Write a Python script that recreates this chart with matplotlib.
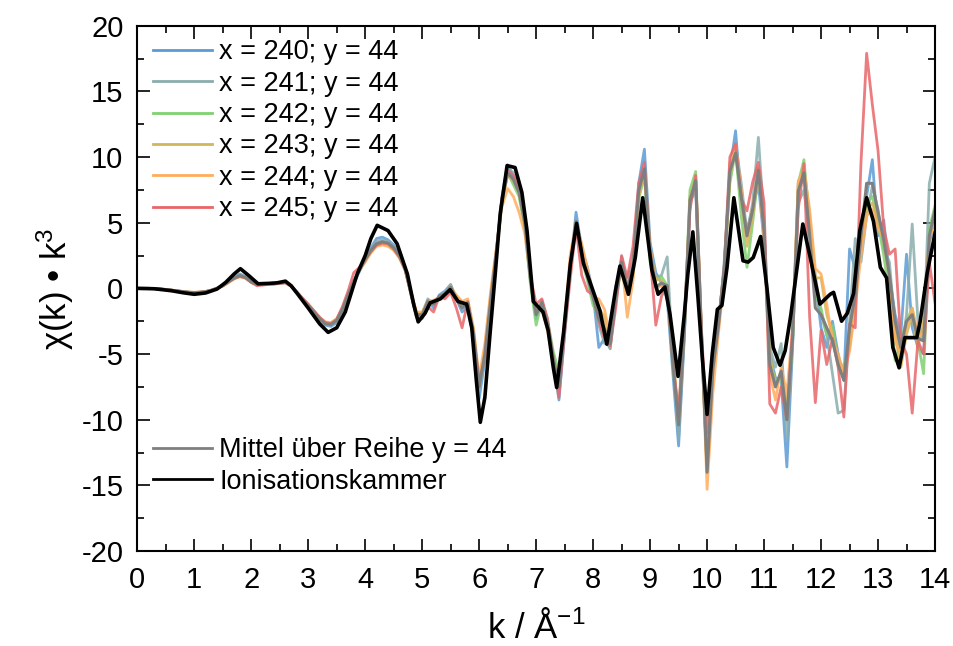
import numpy as np
import matplotlib
matplotlib.use("Agg")
import matplotlib.pyplot as plt

plt.rcParams["font.family"] = ["Liberation Sans", "DejaVu Sans"]
plt.rcParams["mathtext.fontset"] = "custom"
plt.rcParams["mathtext.rm"] = "Liberation Sans"
plt.rcParams["mathtext.it"] = "Liberation Sans:italic"
plt.rcParams["mathtext.default"] = "regular"
plt.rcParams["axes.unicode_minus"] = False

# k-Raster der Pixelspektren (0 ... 14, Schritt 0.1)
k = np.round(np.arange(0, 14.05, 0.1), 1)

chi_240 = [
    0, 0, 0, -0.02, -0.05, -0.09, -0.14, -0.2, -0.26, -0.3,
    -0.33, -0.3, -0.25, -0.14, 0.02, 0.25, 0.55, 0.85, 1.1, 0.9,
    0.55, 0.3, 0.3, 0.35, 0.38, 0.42, 0.5, 0.2, -0.35, -0.85,
    -1.4, -1.9, -2.4, -2.8, -2.9, -2.6, -1.8, -0.6, 0.4, 1.3,
    2.2, 3.1, 3.8, 3.9, 3.7, 3.3, 2.6, 1.6, -0.4, -2.2,
    -2.1, -0.9, -1.5, -0.5, -0.2, 0.3, -0.8, -1.8, -1.4, -3.8,
    -8.4, -5.5, -1.5, 2.8, 7.0, 9.4, 8.5, 7.8, 5.0, 0.6,
    -2.3, -0.9, -2.8, -5.5, -8.5, -3.5, 1.5, 5.8, 3.0, 1.6,
    -0.4, -4.5, -3.8, -4.6, -0.6, 2.4, 0.0, 1.5, 8.0, 10.6,
    3.5, 1.2, 0.4, -0.8, -6.5, -12.0, -3.8, 6.5, 7.6, -4.0,
    -13.5, -5.5, -2.5, 1.5, 9.0, 12.0, 6.5, 4.5, 6.0, 8.0,
    3.5, -5.0, -6.8, -7.0, -13.6, -4.5, 7.5, 8.5, 4.5, 0.5,
    -3.0, -4.5, -2.5, -5.0, -7.0, 3.0, 1.5, 3.0, 7.0, 9.8,
    4.0, 5.2, 1.0, -2.0, -3.5, 2.6, -3.0, -4.5, -5.0, 3.5,
    5.0,
]
chi_241 = [
    0, 0, 0, -0.02, -0.05, -0.09, -0.14, -0.2, -0.25, -0.3,
    -0.32, -0.3, -0.24, -0.14, 0.0, 0.22, 0.5, 0.8, 1.0, 0.85,
    0.5, 0.32, 0.3, 0.35, 0.36, 0.42, 0.48, 0.2, -0.3, -0.8,
    -1.35, -1.85, -2.35, -2.75, -2.8, -2.5, -1.7, -0.55, 0.45, 1.35,
    2.2, 3.0, 3.6, 3.7, 3.55, 3.2, 2.5, 1.5, -0.3, -2.0,
    -1.9, -0.8, -1.2, -0.6, -0.3, 0.1, -0.6, -1.3, -1.2, -3.5,
    -7.6, -5.0, -1.0, 2.6, 6.8, 9.2, 8.8, 7.6, 5.2, 0.8,
    -2.0, -1.2, -2.6, -5.3, -7.2, -3.0, 1.7, 5.0, 3.2, 0.9,
    -0.8, -2.8, -4.2, -4.0, 0.2, 1.6, 0.9, 2.0, 7.5, 9.0,
    2.4, 0.8, 1.0, 2.4, -5.5, -11.4, -3.5, 6.8, 8.0, -3.5,
    -12.5, -5.5, -3.0, 2.0, 8.5, 11.0, 8.0, 4.2, 6.5, 11.5,
    5.0, -4.5, -6.0, -4.2, -11.5, -4.0, 6.5, 7.5, 4.0, 1.0,
    -2.0, -3.5, -6.5, -9.5, -9.3, -2.5, 3.8, 2.0, 5.5, 7.8,
    6.0, 3.0, 2.0, -3.0, -5.0, -2.0, 4.9, -2.5, -4.0, 8.0,
    10.0,
]
chi_242 = [
    0, 0, 0, -0.02, -0.05, -0.09, -0.13, -0.19, -0.24, -0.29,
    -0.31, -0.29, -0.24, -0.15, 0.0, 0.2, 0.48, 0.78, 0.95, 0.8,
    0.48, 0.3, 0.3, 0.34, 0.35, 0.4, 0.44, 0.2, -0.3, -0.8,
    -1.3, -1.8, -2.3, -2.65, -2.7, -2.4, -1.6, -0.5, 0.5, 1.4,
    2.1, 2.9, 3.3, 3.4, 3.3, 3.0, 2.4, 1.4, -0.3, -2.0,
    -2.0, -1.1, -1.0, -0.7, -0.5, 0.0, -0.9, -1.2, -1.0, -3.4,
    -7.5, -5.2, -1.2, 2.5, 6.5, 8.8, 7.9, 7.0, 4.6, 0.3,
    -2.8, -1.0, -2.4, -4.8, -6.4, -2.8, 1.8, 4.8, 2.2, 0.6,
    -1.3, -2.0, -3.2, -4.0, -1.0, 1.8, 0.4, 1.0, 6.8, 8.6,
    2.0, 0.6, 0.9, 0.2, -6.0, -9.6, -3.0, 7.5, 8.9, -3.0,
    -14.0, -6.2, -2.6, 1.5, 8.0, 10.5, 5.5, 1.6, 5.0, 8.8,
    4.0, -5.5, -7.0, -6.8, -9.5, -4.2, 8.0, 9.8, 5.0, -0.5,
    -1.5, -3.6, -2.8, -5.5, -6.0, -4.5, -1.0, 4.5, 6.5, 7.0,
    5.0, 2.5, -0.5, -5.5, -4.0, -2.5, -1.5, -4.0, -6.5, 4.5,
    6.3,
]
chi_243 = [
    0, 0, 0, -0.02, -0.05, -0.09, -0.14, -0.2, -0.25, -0.3,
    -0.32, -0.3, -0.25, -0.15, 0.0, 0.18, 0.46, 0.75, 0.92, 0.8,
    0.48, 0.3, 0.3, 0.35, 0.35, 0.4, 0.44, 0.22, -0.28, -0.78,
    -1.25, -1.75, -2.25, -2.6, -2.65, -2.35, -1.55, -0.45, 0.55, 1.4,
    2.1, 2.8, 3.3, 3.4, 3.3, 2.95, 2.4, 1.5, -0.2, -1.9,
    -1.9, -1.0, -1.1, -0.6, -0.4, 0.2, -0.7, -1.0, -1.2, -3.2,
    -7.2, -4.6, -0.6, 2.9, 6.6, 8.6, 8.2, 7.3, 5.3, 1.0,
    -1.8, -1.4, -3.0, -5.2, -7.3, -2.6, 2.0, 5.1, 3.0, 1.2,
    -0.6, -1.5, -2.2, -4.5, -0.4, 1.9, -0.5, 1.4, 7.0, 8.8,
    3.0, 0.7, 0.6, -0.5, -5.0, -10.0, -3.2, 7.0, 8.2, -3.5,
    -13.8, -6.5, -2.8, 1.0, 8.5, 10.8, 7.0, 3.2, 5.5, 9.0,
    4.2, -5.0, -7.5, -6.5, -9.0, -3.8, 8.0, 9.2, 5.5, 0.8,
    0.8, -2.0, -3.5, -5.5, -6.5, -4.5, 0.0, 3.5, 6.0, 6.5,
    5.2, 3.5, 1.0, -3.5, -6.0, -3.5, -2.0, -4.5, -2.5, 4.0,
    5.0,
]
chi_244 = [
    0, 0, 0, -0.02, -0.04, -0.08, -0.13, -0.18, -0.23, -0.28,
    -0.3, -0.28, -0.23, -0.14, 0.0, 0.18, 0.44, 0.72, 0.88, 0.76,
    0.46, 0.3, 0.3, 0.34, 0.35, 0.4, 0.44, 0.22, -0.25, -0.75,
    -1.2, -1.7, -2.2, -2.55, -2.6, -2.3, -1.5, -0.4, 0.55, 1.4,
    2.0, 2.7, 3.2, 3.3, 3.2, 2.9, 2.3, 1.4, -0.2, -1.8,
    -1.8, -1.0, -0.9, -0.7, -0.4, 0.0, -0.5, -1.0, -0.8, -3.0,
    -6.8, -4.2, -0.3, 3.0, 6.2, 7.6, 7.0, 5.8, 4.2, 0.8,
    -1.7, -1.6, -3.2, -5.6, -7.6, -2.4, 2.6, 5.0, 3.4, 1.5,
    -0.7, -0.8, -1.6, -3.8, -0.6, 2.2, -2.2, 0.6, 7.2, 9.0,
    3.2, 0.0, 0.2, -0.3, -5.3, -9.8, -3.0, 6.6, 8.3, -3.2,
    -15.3, -8.0, -3.4, 0.8, 9.5, 10.8, 7.5, 3.8, 6.2, 9.2,
    3.5, -6.5, -8.5, -6.0, -8.0, -3.0, 8.2, 9.0, 6.0, 1.5,
    1.1, -1.2, -4.0, -5.0, -6.5, -4.8, -1.5, 2.5, 5.5, 6.0,
    4.5, 3.8, 0.8, -4.0, -5.0, -3.0, -1.5, -3.5, -3.5, 4.0,
    4.5,
]
chi_245 = [
    0, 0, 0, -0.02, -0.05, -0.09, -0.14, -0.2, -0.25, -0.3,
    -0.32, -0.3, -0.25, -0.15, 0.0, 0.2, 0.48, 0.76, 0.92, 0.8,
    0.45, 0.2, 0.25, 0.3, 0.32, 0.38, 0.42, 0.15, -0.3, -0.75,
    -1.2, -1.7, -2.2, -2.6, -2.7, -2.35, -1.4, -0.2, 1.2, 1.6,
    2.2, 2.8, 3.3, 3.45, 3.4, 3.0, 2.4, 1.4, -0.4, -2.2,
    -2.3, -1.4, -1.8, -0.6, -0.8, -0.3, -1.5, -3.0, -1.0, -3.6,
    -7.0, -5.4, -1.2, 2.6, 6.9, 9.0, 8.6, 7.8, 5.4, 0.9,
    -1.2, -0.8, -2.3, -5.4, -8.3, -3.4, 0.8, 4.7, 1.0, -0.2,
    -0.5, -2.5, -3.8, -4.4, -1.4, 2.5, 0.8, 3.2, 8.0, 9.6,
    2.6, -2.8, -0.6, 0.2, -5.8, -9.4, -2.5, 6.0, 8.6, -3.0,
    -11.0, -5.8, -2.6, 1.6, 10.0, 11.0, 6.8, 5.9, 8.1, 9.6,
    6.5, -8.8, -9.5, -7.5, -10.0, -3.0, 6.0, 9.5, -2.2, -8.7,
    -3.2, -5.8, -3.8, -6.0, -9.8, -2.7, -3.0, 9.5, 17.9, 14.0,
    10.5, 4.6, 2.6, 3.0, -4.0, -5.0, -9.5, -4.0, -5.0, 2.0,
    -1.1,
]
chi_mittel = [
    0, 0, 0, -0.02, -0.05, -0.09, -0.14, -0.2, -0.25, -0.3,
    -0.32, -0.3, -0.25, -0.15, 0.0, 0.2, 0.5, 0.78, 0.97, 0.82,
    0.5, 0.3, 0.3, 0.35, 0.36, 0.41, 0.46, 0.2, -0.3, -0.8,
    -1.3, -1.8, -2.3, -2.7, -2.75, -2.45, -1.6, -0.5, 0.55, 1.4,
    2.2, 2.9, 3.4, 3.55, 3.45, 3.1, 2.5, 1.5, -0.3, -2.0,
    -2.0, -1.0, -1.2, -0.6, -0.4, 0.1, -0.8, -1.5, -1.1, -3.4,
    -7.5, -5.0, -1.0, 2.7, 6.7, 8.8, 8.3, 7.3, 5.0, 0.7,
    -2.0, -1.1, -2.7, -5.3, -7.5, -3.0, 1.7, 5.1, 2.6, 0.9,
    -0.7, -2.3, -3.1, -4.2, -0.6, 2.0, 0.0, 1.6, 7.4, 9.1,
    2.8, 0.1, 0.4, 0.2, -5.7, -10.4, -3.2, 6.7, 8.2, -3.4,
    -14.0, -6.2, -2.8, 1.4, 8.9, 10.3, 7.0, 4.0, 6.0, 9.0,
    4.3, -5.8, -7.5, -6.3, -10.0, -3.8, 7.4, 8.8, 4.0, -1.5,
    -2.0, -3.0, -4.0, -5.8, -7.0, -3.0, -0.5, 4.0, 8.0, 8.0,
    5.8, 3.7, 1.0, -2.5, -4.5, -2.5, -2.0, -3.8, -4.0, 4.0,
    6.0,
]

ion_k = [
    0, 0.3, 0.6, 0.8, 1.0, 1.2, 1.4, 1.55, 1.7, 1.81, 1.95, 2.12, 2.3, 2.45,
    2.6, 2.7, 2.8, 3.0, 3.2, 3.35, 3.5, 3.65, 3.86, 4.0, 4.1, 4.21, 4.4,
    4.56, 4.74, 4.85, 4.93, 5.05, 5.14, 5.32, 5.49, 5.63, 5.78, 5.87, 5.95,
    6.02, 6.1, 6.19, 6.28, 6.37, 6.49, 6.63, 6.75, 6.84, 6.95, 7.12, 7.21,
    7.3, 7.36, 7.48, 7.6, 7.71, 7.83, 7.98, 8.12, 8.24, 8.39, 8.47, 8.62,
    8.74, 8.87, 9.03, 9.14, 9.26, 9.35, 9.49, 9.6, 9.66, 9.75, 9.84, 9.92,
    10.0, 10.09, 10.18, 10.26, 10.35, 10.47, 10.63, 10.72, 10.81, 10.94,
    11.05, 11.16, 11.28, 11.37, 11.47, 11.68, 11.81, 11.98, 12.16, 12.22,
    12.36, 12.46, 12.57, 12.68, 12.8, 12.92, 13.04, 13.15, 13.26, 13.37,
    13.47, 13.68, 13.74, 13.86, 14.0,
]
ion_chi = [
    0, -0.03, -0.18, -0.33, -0.45, -0.35, -0.05, 0.45, 1.1, 1.5, 1.0, 0.35,
    0.38, 0.42, 0.55, 0.2, -0.35, -1.5, -2.7, -3.35, -3.0, -1.8, 1.1, 2.5,
    3.8, 4.8, 4.4, 3.4, 1.1, -1.2, -2.55, -1.9, -1.1, -0.8, -0.1, -1.0,
    -1.2, -3.0, -7.0, -10.2, -8.3, -3.5, 1.0, 5.7, 9.35, 9.2, 7.3, 4.4,
    -1.0, -1.8, -3.2, -6.0, -7.55, -3.4, 1.85, 4.95, 1.9, 0.05, -1.7,
    -4.25, -0.2, 1.7, -0.45, 2.35, 6.9, 1.4, -0.45, 0.1, -2.0, -6.7, -2.0,
    1.0, 4.3, -0.7, -5.5, -9.6, -5.0, -1.6, -1.3, 1.6, 6.9, 2.1, 2.0, 2.35,
    3.95, 0.05, -4.5, -5.85, -4.75, -2.0, 4.9, 2.35, -1.2, -0.45, -0.3,
    -2.5, -1.9, -0.4, 4.4, 6.9, 5.1, 1.6, 0.8, -4.5, -6.05, -3.75, -3.75,
    -2.5, 1.1, 4.2,
]

pixel_serien = [
    ("x = 240; y = 44", chi_240, "#5b9bd5"),
    ("x = 241; y = 44", chi_241, "#8aadad"),
    ("x = 242; y = 44", chi_242, "#80d070"),
    ("x = 243; y = 44", chi_243, "#d2b65a"),
    ("x = 244; y = 44", chi_244, "#ffad5c"),
    ("x = 245; y = 44", chi_245, "#e8666a"),
]

fig = plt.figure(figsize=(9.54, 6.46), dpi=100)
ax = fig.add_axes([0.1439, 0.147, 0.8362, 0.8132])

handles_pixel = []
for label, werte, farbe in pixel_serien:
    (linie,) = ax.plot(k, werte, color=farbe, lw=2.0, alpha=0.85, label=label)
    handles_pixel.append(linie)
(h_mittel,) = ax.plot(k, chi_mittel, color="#7f7f7f", lw=2.2,
                      label="Mittel über Reihe y = 44")
(h_ion,) = ax.plot(ion_k, ion_chi, color="black", lw=2.6,
                   label="Ionisationskammer")

ax.set_xlim(0, 14)
ax.set_ylim(-20, 20)
ax.set_xticks(np.arange(0, 15, 1))
ax.set_xticks(np.arange(0, 14.01, 0.5), minor=True)
ax.set_yticks(np.arange(-20, 21, 5))
ax.set_yticks(np.arange(-20, 20.1, 2.5), minor=True)
ax.tick_params(which="both", direction="in", top=True, right=True,
               labelsize=21, width=1.2)
ax.tick_params(which="major", length=9)
ax.tick_params(which="minor", length=5)
ax.tick_params(axis="x", which="major", pad=11)
ax.tick_params(axis="y", which="major", pad=10)
for s in ax.spines.values():
    s.set_linewidth(1.5)

ax.set_xlabel("k / Å$^{-1}$", fontsize=25, labelpad=11)
ax.set_ylabel("χ(k) • k$^3$", fontsize=25, labelpad=4)

leg1 = ax.legend(handles=handles_pixel, loc="upper left", frameon=False,
                 fontsize=19.5, handlelength=2.2, handletextpad=0.25,
                 labelspacing=0.2, borderaxespad=0.0,
                 bbox_to_anchor=(0.006, 0.995))
for h in leg1.get_lines():
    h.set_linewidth(2.0)
    h.set_alpha(1.0)
ax.add_artist(leg1)
leg2 = ax.legend(handles=[h_mittel, h_ion], loc="lower left", frameon=False,
                 fontsize=19.5, handlelength=2.2, handletextpad=0.25,
                 labelspacing=0.2, borderaxespad=0.0,
                 bbox_to_anchor=(0.006, 0.087))
for h in leg2.get_lines():
    h.set_linewidth(2.0)

fig.savefig("out.png", dpi=100)
